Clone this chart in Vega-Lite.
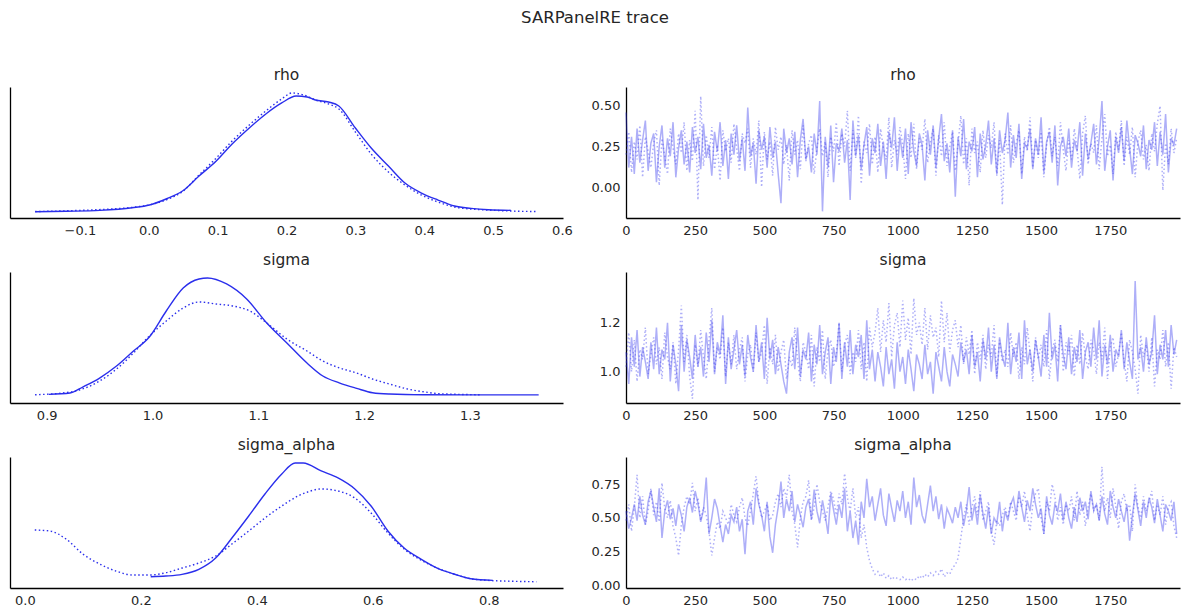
{
"$schema": "https://vega.github.io/schema/vega-lite/v6.json",
"padding": {"left": 10, "top": 9, "right": 8, "bottom": 6},
"background": "white",
"title": {"text": "SARPanelRE trace", "font": "DejaVu Sans", "fontSize": 16.5, "fontWeight": "normal", "color": "#262626", "anchor": "middle", "offset": 41.5},
"config": {
  "view": {"stroke": null},
  "axis": {"grid": false, "ticks": false, "domainColor": "black", "domainWidth": 1.3, "labelFont": "DejaVu Sans", "labelFontSize": 13, "labelColor": "#262626", "title": null, "labelFlush": false, "labelOverlap": false, "labelPadding": 6},
  "title": {"font": "DejaVu Sans", "fontSize": 15.5, "fontWeight": "normal", "color": "#262626", "offset": 4}
},
"datasets": {
"kde_rho": [
{"c":0,"x":-0.165,"d":0.3},{"c":0,"x":-0.12,"d":0.8},{"c":0,"x":-0.071,"d":1.7},{"c":0,"x":-0.024,"d":4.3},{"c":0,"x":0.001,"d":7},{"c":0,"x":0.026,"d":13.3},{"c":0,"x":0.049,"d":21},{"c":0,"x":0.073,"d":36},{"c":0,"x":0.098,"d":51},{"c":0,"x":0.121,"d":68},{"c":0,"x":0.146,"d":84},{"c":0,"x":0.17,"d":98},{"c":0,"x":0.193,"d":109},{"c":0,"x":0.214,"d":116},{"c":0,"x":0.23,"d":115},{"c":0,"x":0.242,"d":112},{"c":0,"x":0.261,"d":110},{"c":0,"x":0.276,"d":106},{"c":0,"x":0.3,"d":84},{"c":0,"x":0.323,"d":64},{"c":0,"x":0.348,"d":46},{"c":0,"x":0.372,"d":29},{"c":0,"x":0.396,"d":19},{"c":0,"x":0.42,"d":12},{"c":0,"x":0.444,"d":6},{"c":0,"x":0.468,"d":3.7},{"c":0,"x":0.493,"d":2.3},{"c":0,"x":0.526,"d":1.7},
{"c":1,"x":-0.165,"d":0.5},{"c":1,"x":-0.12,"d":1.2},{"c":1,"x":-0.07,"d":2.5},{"c":1,"x":-0.02,"d":5},{"c":1,"x":0.0,"d":7},{"c":1,"x":0.025,"d":12},{"c":1,"x":0.05,"d":21},{"c":1,"x":0.073,"d":37},{"c":1,"x":0.098,"d":54},{"c":1,"x":0.121,"d":71},{"c":1,"x":0.146,"d":87},{"c":1,"x":0.17,"d":101},{"c":1,"x":0.193,"d":113},{"c":1,"x":0.208,"d":119},{"c":1,"x":0.225,"d":117},{"c":1,"x":0.242,"d":112},{"c":1,"x":0.261,"d":108},{"c":1,"x":0.276,"d":103},{"c":1,"x":0.3,"d":80},{"c":1,"x":0.323,"d":58},{"c":1,"x":0.348,"d":40},{"c":1,"x":0.372,"d":27},{"c":1,"x":0.396,"d":17},{"c":1,"x":0.42,"d":10},{"c":1,"x":0.444,"d":5},{"c":1,"x":0.468,"d":3},{"c":1,"x":0.493,"d":2},{"c":1,"x":0.526,"d":1},{"c":1,"x":0.562,"d":0.5}
],
"kde_sigma": [
{"c":0,"x":0.902,"d":2.7},{"c":0,"x":0.922,"d":4},{"c":0,"x":0.934,"d":10},{"c":0,"x":0.95,"d":19},{"c":0,"x":0.966,"d":31},{"c":0,"x":0.982,"d":46},{"c":0,"x":0.997,"d":60},{"c":0,"x":1.013,"d":86},{"c":0,"x":1.029,"d":109},{"c":0,"x":1.044,"d":118},{"c":0,"x":1.052,"d":119},{"c":0,"x":1.07,"d":113},{"c":0,"x":1.089,"d":98},{"c":0,"x":1.108,"d":74},{"c":0,"x":1.127,"d":54},{"c":0,"x":1.146,"d":34},{"c":0,"x":1.161,"d":21},{"c":0,"x":1.177,"d":14},{"c":0,"x":1.193,"d":8.7},{"c":0,"x":1.208,"d":4.3},{"c":0,"x":1.224,"d":3},{"c":0,"x":1.256,"d":2.3},{"c":0,"x":1.3,"d":2.2},{"c":0,"x":1.365,"d":2.2},
{"c":1,"x":0.889,"d":2.3},{"c":1,"x":0.922,"d":5},{"c":1,"x":0.95,"d":16},{"c":1,"x":0.966,"d":28},{"c":1,"x":0.982,"d":44},{"c":1,"x":0.997,"d":61},{"c":1,"x":1.013,"d":76},{"c":1,"x":1.029,"d":89},{"c":1,"x":1.044,"d":95},{"c":1,"x":1.06,"d":93},{"c":1,"x":1.076,"d":91},{"c":1,"x":1.092,"d":86},{"c":1,"x":1.108,"d":74},{"c":1,"x":1.127,"d":58},{"c":1,"x":1.146,"d":46},{"c":1,"x":1.161,"d":36},{"c":1,"x":1.177,"d":29},{"c":1,"x":1.193,"d":24},{"c":1,"x":1.208,"d":18},{"c":1,"x":1.224,"d":13},{"c":1,"x":1.24,"d":8.3},{"c":1,"x":1.256,"d":5.3},{"c":1,"x":1.272,"d":3.3},{"c":1,"x":1.31,"d":2.3}
],
"kde_sa": [
{"c":0,"x":0.217,"d":5.3},{"c":0,"x":0.243,"d":6},{"c":0,"x":0.271,"d":7.7},{"c":0,"x":0.3,"d":12.7},{"c":0,"x":0.329,"d":24},{"c":0,"x":0.357,"d":44},{"c":0,"x":0.386,"d":66},{"c":0,"x":0.414,"d":88},{"c":0,"x":0.443,"d":108},{"c":0,"x":0.466,"d":119},{"c":0,"x":0.48,"d":119},{"c":0,"x":0.511,"d":111},{"c":0,"x":0.54,"d":104},{"c":0,"x":0.569,"d":93},{"c":0,"x":0.597,"d":76},{"c":0,"x":0.626,"d":51},{"c":0,"x":0.654,"d":34},{"c":0,"x":0.683,"d":23},{"c":0,"x":0.711,"d":14},{"c":0,"x":0.74,"d":8},{"c":0,"x":0.769,"d":3.3},{"c":0,"x":0.807,"d":1.7},
{"c":1,"x":0.017,"d":52},{"c":1,"x":0.043,"d":51},{"c":1,"x":0.071,"d":43},{"c":1,"x":0.1,"d":28},{"c":1,"x":0.129,"d":18},{"c":1,"x":0.157,"d":11},{"c":1,"x":0.186,"d":7},{"c":1,"x":0.214,"d":7},{"c":1,"x":0.243,"d":9.3},{"c":1,"x":0.271,"d":14},{"c":1,"x":0.3,"d":19},{"c":1,"x":0.329,"d":26},{"c":1,"x":0.357,"d":38},{"c":1,"x":0.386,"d":51},{"c":1,"x":0.414,"d":64},{"c":1,"x":0.443,"d":76},{"c":1,"x":0.471,"d":86},{"c":1,"x":0.483,"d":89},{"c":1,"x":0.511,"d":93},{"c":1,"x":0.54,"d":91},{"c":1,"x":0.569,"d":84},{"c":1,"x":0.597,"d":69},{"c":1,"x":0.626,"d":49},{"c":1,"x":0.654,"d":33},{"c":1,"x":0.683,"d":22},{"c":1,"x":0.711,"d":14},{"c":1,"x":0.74,"d":8},{"c":1,"x":0.769,"d":3.3},{"c":1,"x":0.797,"d":1.7},{"c":1,"x":0.84,"d":0.8},{"c":1,"x":0.882,"d":0.3}
],
"tr_rho": [
{"c":0,"i":0,"y":0.46},{"c":0,"i":10,"y":0.12},{"c":0,"i":20,"y":0.31},{"c":0,"i":30,"y":0.08},{"c":0,"i":40,"y":0.36},{"c":0,"i":50,"y":0.15},{"c":0,"i":60,"y":0.29},{"c":0,"i":70,"y":0.41},{"c":0,"i":80,"y":0.10},{"c":0,"i":90,"y":0.27},
{"c":0,"i":100,"y":0.33},{"c":0,"i":110,"y":0.03},{"c":0,"i":120,"y":0.25},{"c":0,"i":130,"y":0.38},{"c":0,"i":140,"y":0.12},{"c":0,"i":150,"y":0.30},{"c":0,"i":160,"y":0.19},{"c":0,"i":170,"y":0.40},{"c":0,"i":180,"y":0.06},{"c":0,"i":190,"y":0.24},
{"c":0,"i":200,"y":0.35},{"c":0,"i":210,"y":0.14},{"c":0,"i":220,"y":0.28},{"c":0,"i":230,"y":0.09},{"c":0,"i":240,"y":0.37},{"c":0,"i":250,"y":0.21},{"c":0,"i":260,"y":0.31},{"c":0,"i":270,"y":0.11},{"c":0,"i":280,"y":0.39},{"c":0,"i":290,"y":0.18},
{"c":0,"i":300,"y":0.26},{"c":0,"i":310,"y":0.07},{"c":0,"i":320,"y":0.34},{"c":0,"i":330,"y":0.22},{"c":0,"i":340,"y":0.40},{"c":0,"i":350,"y":0.13},{"c":0,"i":360,"y":0.29},{"c":0,"i":370,"y":0.05},{"c":0,"i":380,"y":0.33},{"c":0,"i":390,"y":0.20},
{"c":0,"i":400,"y":0.38},{"c":0,"i":410,"y":0.16},{"c":0,"i":420,"y":0.30},{"c":0,"i":430,"y":0.10},{"c":0,"i":440,"y":0.49},{"c":0,"i":450,"y":0.19},{"c":0,"i":460,"y":0.27},{"c":0,"i":470,"y":0.02},{"c":0,"i":480,"y":0.35},{"c":0,"i":490,"y":0.23},
{"c":0,"i":500,"y":0.31},{"c":0,"i":510,"y":0.12},{"c":0,"i":520,"y":0.37},{"c":0,"i":530,"y":0.18},{"c":0,"i":540,"y":0.28},{"c":0,"i":550,"y":0.08},{"c":0,"i":560,"y":-0.10},{"c":0,"i":570,"y":0.36},{"c":0,"i":580,"y":0.21},{"c":0,"i":590,"y":0.30},
{"c":0,"i":600,"y":0.14},{"c":0,"i":610,"y":0.34},{"c":0,"i":620,"y":0.06},{"c":0,"i":630,"y":0.29},{"c":0,"i":640,"y":0.42},{"c":0,"i":650,"y":0.17},{"c":0,"i":660,"y":0.25},{"c":0,"i":670,"y":0.09},{"c":0,"i":680,"y":0.33},{"c":0,"i":690,"y":0.20},
{"c":0,"i":700,"y":0.53},{"c":0,"i":710,"y":-0.15},{"c":0,"i":720,"y":0.31},{"c":0,"i":730,"y":0.12},{"c":0,"i":740,"y":0.38},{"c":0,"i":750,"y":0.03},{"c":0,"i":760,"y":0.27},{"c":0,"i":770,"y":0.22},{"c":0,"i":780,"y":0.36},{"c":0,"i":790,"y":0.15},
{"c":0,"i":800,"y":0.29},{"c":0,"i":810,"y":-0.08},{"c":0,"i":820,"y":0.41},{"c":0,"i":830,"y":0.19},{"c":0,"i":840,"y":0.32},{"c":0,"i":850,"y":0.11},{"c":0,"i":860,"y":0.26},{"c":0,"i":870,"y":0.37},{"c":0,"i":880,"y":0.07},{"c":0,"i":890,"y":0.30},
{"c":0,"i":900,"y":0.21},{"c":0,"i":910,"y":0.39},{"c":0,"i":920,"y":0.13},{"c":0,"i":930,"y":0.28},{"c":0,"i":940,"y":0.05},{"c":0,"i":950,"y":0.34},{"c":0,"i":960,"y":0.24},{"c":0,"i":970,"y":0.43},{"c":0,"i":980,"y":0.10},{"c":0,"i":990,"y":0.31},
{"c":0,"i":1000,"y":0.18},{"c":0,"i":1010,"y":0.36},{"c":0,"i":1020,"y":0.08},{"c":0,"i":1030,"y":0.40},{"c":0,"i":1040,"y":0.22},{"c":0,"i":1050,"y":0.13},{"c":0,"i":1060,"y":0.33},{"c":0,"i":1070,"y":0.26},{"c":0,"i":1080,"y":0.04},{"c":0,"i":1090,"y":0.35},
{"c":0,"i":1100,"y":0.20},{"c":0,"i":1110,"y":0.38},{"c":0,"i":1120,"y":0.12},{"c":0,"i":1130,"y":0.30},{"c":0,"i":1140,"y":0.45},{"c":0,"i":1150,"y":0.16},{"c":0,"i":1160,"y":0.27},{"c":0,"i":1170,"y":0.09},{"c":0,"i":1180,"y":0.35},{"c":0,"i":1190,"y":-0.06},
{"c":0,"i":1200,"y":0.31},{"c":0,"i":1210,"y":0.19},{"c":0,"i":1220,"y":0.42},{"c":0,"i":1230,"y":0.11},{"c":0,"i":1240,"y":0.28},{"c":0,"i":1250,"y":0.22},{"c":0,"i":1260,"y":0.37},{"c":0,"i":1270,"y":0.06},{"c":0,"i":1280,"y":0.33},{"c":0,"i":1290,"y":0.17},
{"c":0,"i":1300,"y":0.26},{"c":0,"i":1310,"y":0.41},{"c":0,"i":1320,"y":0.14},{"c":0,"i":1330,"y":0.30},{"c":0,"i":1340,"y":0.08},{"c":0,"i":1350,"y":0.35},{"c":0,"i":1360,"y":0.21},{"c":0,"i":1370,"y":0.29},{"c":0,"i":1380,"y":0.46},{"c":0,"i":1390,"y":0.12},
{"c":0,"i":1400,"y":0.32},{"c":0,"i":1410,"y":0.18},{"c":0,"i":1420,"y":0.39},{"c":0,"i":1430,"y":0.05},{"c":0,"i":1440,"y":0.27},{"c":0,"i":1450,"y":0.24},{"c":0,"i":1460,"y":0.36},{"c":0,"i":1470,"y":0.11},{"c":0,"i":1480,"y":0.30},{"c":0,"i":1490,"y":0.20},
{"c":0,"i":1500,"y":0.43},{"c":0,"i":1510,"y":0.09},{"c":0,"i":1520,"y":0.28},{"c":0,"i":1530,"y":0.34},{"c":0,"i":1540,"y":0.15},{"c":0,"i":1550,"y":0.38},{"c":0,"i":1560,"y":0.01},{"c":0,"i":1570,"y":0.25},{"c":0,"i":1580,"y":0.31},{"c":0,"i":1590,"y":0.19},
{"c":0,"i":1600,"y":0.36},{"c":0,"i":1610,"y":0.12},{"c":0,"i":1620,"y":0.29},{"c":0,"i":1630,"y":0.22},{"c":0,"i":1640,"y":0.40},{"c":0,"i":1650,"y":0.07},{"c":0,"i":1660,"y":0.33},{"c":0,"i":1670,"y":0.17},{"c":0,"i":1680,"y":0.27},{"c":0,"i":1690,"y":0.39},
{"c":0,"i":1700,"y":0.14},{"c":0,"i":1710,"y":0.30},{"c":0,"i":1720,"y":0.53},{"c":0,"i":1730,"y":0.10},{"c":0,"i":1740,"y":0.25},{"c":0,"i":1750,"y":0.35},{"c":0,"i":1760,"y":0.04},{"c":0,"i":1770,"y":0.31},{"c":0,"i":1780,"y":0.21},{"c":0,"i":1790,"y":0.37},
{"c":0,"i":1800,"y":0.16},{"c":0,"i":1810,"y":0.41},{"c":0,"i":1820,"y":0.24},{"c":0,"i":1830,"y":0.08},{"c":0,"i":1840,"y":0.32},{"c":0,"i":1850,"y":0.27},{"c":0,"i":1860,"y":0.19},{"c":0,"i":1870,"y":0.38},{"c":0,"i":1880,"y":0.11},{"c":0,"i":1890,"y":0.29},
{"c":0,"i":1900,"y":0.23},{"c":0,"i":1910,"y":0.40},{"c":0,"i":1920,"y":0.13},{"c":0,"i":1930,"y":0.34},{"c":0,"i":1940,"y":0.20},{"c":0,"i":1950,"y":0.45},{"c":0,"i":1960,"y":0.09},{"c":0,"i":1970,"y":0.30},{"c":0,"i":1980,"y":0.26},{"c":0,"i":1990,"y":0.36},
{"c":1,"i":0,"y":0.20},{"c":1,"i":10,"y":0.34},{"c":1,"i":20,"y":0.09},{"c":1,"i":30,"y":0.28},{"c":1,"i":40,"y":0.17},{"c":1,"i":50,"y":0.38},{"c":1,"i":60,"y":0.06},{"c":1,"i":70,"y":0.31},{"c":1,"i":80,"y":0.22},{"c":1,"i":90,"y":0.12},
{"c":1,"i":100,"y":0.27},{"c":1,"i":110,"y":0.35},{"c":1,"i":120,"y":0.01},{"c":1,"i":130,"y":0.30},{"c":1,"i":140,"y":0.19},{"c":1,"i":150,"y":0.08},{"c":1,"i":160,"y":0.36},{"c":1,"i":170,"y":0.24},{"c":1,"i":180,"y":0.14},{"c":1,"i":190,"y":0.33},
{"c":1,"i":200,"y":0.21},{"c":1,"i":210,"y":0.40},{"c":1,"i":220,"y":0.10},{"c":1,"i":230,"y":0.29},{"c":1,"i":240,"y":0.16},{"c":1,"i":250,"y":0.47},{"c":1,"i":260,"y":-0.08},{"c":1,"i":270,"y":0.56},{"c":1,"i":280,"y":0.13},{"c":1,"i":290,"y":0.32},
{"c":1,"i":300,"y":0.18},{"c":1,"i":310,"y":0.37},{"c":1,"i":320,"y":0.11},{"c":1,"i":330,"y":0.26},{"c":1,"i":340,"y":0.04},{"c":1,"i":350,"y":0.35},{"c":1,"i":360,"y":0.22},{"c":1,"i":370,"y":0.30},{"c":1,"i":380,"y":0.15},{"c":1,"i":390,"y":0.39},
{"c":1,"i":400,"y":0.24},{"c":1,"i":410,"y":0.10},{"c":1,"i":420,"y":0.33},{"c":1,"i":430,"y":0.27},{"c":1,"i":440,"y":0.36},{"c":1,"i":450,"y":0.12},{"c":1,"i":460,"y":0.30},{"c":1,"i":470,"y":0.20},{"c":1,"i":480,"y":0.41},{"c":1,"i":490,"y":0.00},
{"c":1,"i":500,"y":0.34},{"c":1,"i":510,"y":0.17},{"c":1,"i":520,"y":0.28},{"c":1,"i":530,"y":0.07},{"c":1,"i":540,"y":0.37},{"c":1,"i":550,"y":0.23},{"c":1,"i":560,"y":0.31},{"c":1,"i":570,"y":0.14},{"c":1,"i":580,"y":0.26},{"c":1,"i":590,"y":0.04},
{"c":1,"i":600,"y":0.35},{"c":1,"i":610,"y":0.20},{"c":1,"i":620,"y":0.29},{"c":1,"i":630,"y":0.11},{"c":1,"i":640,"y":0.38},{"c":1,"i":650,"y":0.16},{"c":1,"i":660,"y":0.27},{"c":1,"i":670,"y":0.32},{"c":1,"i":680,"y":0.08},{"c":1,"i":690,"y":0.24},
{"c":1,"i":700,"y":0.36},{"c":1,"i":710,"y":0.19},{"c":1,"i":720,"y":0.28},{"c":1,"i":730,"y":0.06},{"c":1,"i":740,"y":0.31},{"c":1,"i":750,"y":0.22},{"c":1,"i":760,"y":0.40},{"c":1,"i":770,"y":0.13},{"c":1,"i":780,"y":0.33},{"c":1,"i":790,"y":0.25},
{"c":1,"i":800,"y":0.47},{"c":1,"i":810,"y":0.10},{"c":1,"i":820,"y":0.35},{"c":1,"i":830,"y":0.18},{"c":1,"i":840,"y":0.44},{"c":1,"i":850,"y":0.02},{"c":1,"i":860,"y":0.28},{"c":1,"i":870,"y":0.21},{"c":1,"i":880,"y":0.39},{"c":1,"i":890,"y":0.14},
{"c":1,"i":900,"y":0.31},{"c":1,"i":910,"y":0.09},{"c":1,"i":920,"y":0.36},{"c":1,"i":930,"y":0.24},{"c":1,"i":940,"y":0.17},{"c":1,"i":950,"y":0.43},{"c":1,"i":960,"y":0.12},{"c":1,"i":970,"y":0.29},{"c":1,"i":980,"y":0.20},{"c":1,"i":990,"y":0.37},
{"c":1,"i":1000,"y":0.26},{"c":1,"i":1010,"y":0.05},{"c":1,"i":1020,"y":0.33},{"c":1,"i":1030,"y":0.18},{"c":1,"i":1040,"y":0.39},{"c":1,"i":1050,"y":0.11},{"c":1,"i":1060,"y":0.30},{"c":1,"i":1070,"y":0.23},{"c":1,"i":1080,"y":0.42},{"c":1,"i":1090,"y":0.15},
{"c":1,"i":1100,"y":0.28},{"c":1,"i":1110,"y":0.36},{"c":1,"i":1120,"y":0.07},{"c":1,"i":1130,"y":0.32},{"c":1,"i":1140,"y":0.19},{"c":1,"i":1150,"y":0.40},{"c":1,"i":1160,"y":0.13},{"c":1,"i":1170,"y":0.25},{"c":1,"i":1180,"y":0.34},{"c":1,"i":1190,"y":0.10},
{"c":1,"i":1200,"y":0.27},{"c":1,"i":1210,"y":0.44},{"c":1,"i":1220,"y":0.14},{"c":1,"i":1230,"y":0.30},{"c":1,"i":1240,"y":0.01},{"c":1,"i":1250,"y":0.36},{"c":1,"i":1260,"y":0.21},{"c":1,"i":1270,"y":0.28},{"c":1,"i":1280,"y":0.09},{"c":1,"i":1290,"y":0.35},
{"c":1,"i":1300,"y":0.18},{"c":1,"i":1310,"y":0.32},{"c":1,"i":1320,"y":0.24},{"c":1,"i":1330,"y":0.40},{"c":1,"i":1340,"y":0.07},{"c":1,"i":1350,"y":0.29},{"c":1,"i":1360,"y":-0.11},{"c":1,"i":1370,"y":0.33},{"c":1,"i":1380,"y":0.20},{"c":1,"i":1390,"y":0.38},
{"c":1,"i":1400,"y":0.15},{"c":1,"i":1410,"y":0.27},{"c":1,"i":1420,"y":0.35},{"c":1,"i":1430,"y":0.08},{"c":1,"i":1440,"y":0.31},{"c":1,"i":1450,"y":0.22},{"c":1,"i":1460,"y":0.43},{"c":1,"i":1470,"y":0.12},{"c":1,"i":1480,"y":0.29},{"c":1,"i":1490,"y":0.18},
{"c":1,"i":1500,"y":0.34},{"c":1,"i":1510,"y":0.06},{"c":1,"i":1520,"y":0.26},{"c":1,"i":1530,"y":0.37},{"c":1,"i":1540,"y":0.19},{"c":1,"i":1550,"y":0.31},{"c":1,"i":1560,"y":0.13},{"c":1,"i":1570,"y":0.40},{"c":1,"i":1580,"y":0.23},{"c":1,"i":1590,"y":0.10},
{"c":1,"i":1600,"y":0.29},{"c":1,"i":1610,"y":0.17},{"c":1,"i":1620,"y":0.36},{"c":1,"i":1630,"y":0.24},{"c":1,"i":1640,"y":0.05},{"c":1,"i":1650,"y":0.33},{"c":1,"i":1660,"y":0.44},{"c":1,"i":1670,"y":0.14},{"c":1,"i":1680,"y":0.27},{"c":1,"i":1690,"y":0.21},
{"c":1,"i":1700,"y":0.38},{"c":1,"i":1710,"y":0.11},{"c":1,"i":1720,"y":0.30},{"c":1,"i":1730,"y":0.45},{"c":1,"i":1740,"y":0.19},{"c":1,"i":1750,"y":0.26},{"c":1,"i":1760,"y":0.08},{"c":1,"i":1770,"y":0.34},{"c":1,"i":1780,"y":0.23},{"c":1,"i":1790,"y":0.41},
{"c":1,"i":1800,"y":0.13},{"c":1,"i":1810,"y":0.31},{"c":1,"i":1820,"y":0.20},{"c":1,"i":1830,"y":0.37},{"c":1,"i":1840,"y":0.06},{"c":1,"i":1850,"y":0.28},{"c":1,"i":1860,"y":0.35},{"c":1,"i":1870,"y":0.17},{"c":1,"i":1880,"y":0.26},{"c":1,"i":1890,"y":0.10},
{"c":1,"i":1900,"y":0.33},{"c":1,"i":1910,"y":0.22},{"c":1,"i":1920,"y":0.39},{"c":1,"i":1930,"y":0.50},{"c":1,"i":1940,"y":-0.02},{"c":1,"i":1950,"y":0.27},{"c":1,"i":1960,"y":0.14},{"c":1,"i":1970,"y":0.36},{"c":1,"i":1980,"y":0.21},{"c":1,"i":1990,"y":0.30}
],
"tr_sigma": [
{"c":0,"i":0,"y":1.08},{"c":0,"i":10,"y":0.95},{"c":0,"i":20,"y":1.14},{"c":0,"i":30,"y":1.02},{"c":0,"i":40,"y":1.17},{"c":0,"i":50,"y":0.98},{"c":0,"i":60,"y":1.10},{"c":0,"i":70,"y":1.04},{"c":0,"i":80,"y":0.97},{"c":0,"i":90,"y":1.12},
{"c":0,"i":100,"y":1.01},{"c":0,"i":110,"y":1.18},{"c":0,"i":120,"y":0.99},{"c":0,"i":130,"y":1.09},{"c":0,"i":140,"y":1.05},{"c":0,"i":150,"y":1.20},{"c":0,"i":160,"y":0.96},{"c":0,"i":170,"y":1.11},{"c":0,"i":180,"y":1.03},{"c":0,"i":190,"y":0.92},
{"c":0,"i":200,"y":1.19},{"c":0,"i":210,"y":1.00},{"c":0,"i":220,"y":1.13},{"c":0,"i":230,"y":1.06},{"c":0,"i":240,"y":0.97},{"c":0,"i":250,"y":1.15},{"c":0,"i":260,"y":1.02},{"c":0,"i":270,"y":1.10},{"c":0,"i":280,"y":0.98},{"c":0,"i":290,"y":1.16},
{"c":0,"i":300,"y":1.04},{"c":0,"i":310,"y":1.21},{"c":0,"i":320,"y":0.99},{"c":0,"i":330,"y":1.12},{"c":0,"i":340,"y":1.07},{"c":0,"i":350,"y":1.23},{"c":0,"i":360,"y":0.95},{"c":0,"i":370,"y":1.14},{"c":0,"i":380,"y":1.01},{"c":0,"i":390,"y":1.09},
{"c":0,"i":400,"y":1.17},{"c":0,"i":410,"y":1.03},{"c":0,"i":420,"y":1.11},{"c":0,"i":430,"y":0.98},{"c":0,"i":440,"y":1.15},{"c":0,"i":450,"y":1.06},{"c":0,"i":460,"y":1.00},{"c":0,"i":470,"y":1.19},{"c":0,"i":480,"y":1.04},{"c":0,"i":490,"y":1.12},
{"c":0,"i":500,"y":0.97},{"c":0,"i":510,"y":1.22},{"c":0,"i":520,"y":1.05},{"c":0,"i":530,"y":1.13},{"c":0,"i":540,"y":0.99},{"c":0,"i":550,"y":1.10},{"c":0,"i":560,"y":1.03},{"c":0,"i":570,"y":0.96},{"c":0,"i":580,"y":0.91},{"c":0,"i":590,"y":1.08},
{"c":0,"i":600,"y":1.14},{"c":0,"i":610,"y":1.01},{"c":0,"i":620,"y":1.18},{"c":0,"i":630,"y":0.98},{"c":0,"i":640,"y":1.09},{"c":0,"i":650,"y":1.05},{"c":0,"i":660,"y":1.16},{"c":0,"i":670,"y":0.96},{"c":0,"i":680,"y":1.11},{"c":0,"i":690,"y":1.03},
{"c":0,"i":700,"y":1.19},{"c":0,"i":710,"y":0.99},{"c":0,"i":720,"y":1.08},{"c":0,"i":730,"y":1.14},{"c":0,"i":740,"y":0.95},{"c":0,"i":750,"y":1.10},{"c":0,"i":760,"y":1.04},{"c":0,"i":770,"y":1.20},{"c":0,"i":780,"y":0.97},{"c":0,"i":790,"y":1.12},
{"c":0,"i":800,"y":1.02},{"c":0,"i":810,"y":1.17},{"c":0,"i":820,"y":0.99},{"c":0,"i":830,"y":1.11},{"c":0,"i":840,"y":1.06},{"c":0,"i":850,"y":1.15},{"c":0,"i":860,"y":0.97},{"c":0,"i":870,"y":1.21},{"c":0,"i":880,"y":1.01},{"c":0,"i":890,"y":1.09},
{"c":0,"i":900,"y":0.96},{"c":0,"i":910,"y":1.08},{"c":0,"i":920,"y":1.02},{"c":0,"i":930,"y":0.94},{"c":0,"i":940,"y":1.10},{"c":0,"i":950,"y":0.99},{"c":0,"i":960,"y":1.05},{"c":0,"i":970,"y":0.93},{"c":0,"i":980,"y":1.12},{"c":0,"i":990,"y":1.00},
{"c":0,"i":1000,"y":1.06},{"c":0,"i":1010,"y":0.95},{"c":0,"i":1020,"y":1.09},{"c":0,"i":1030,"y":1.01},{"c":0,"i":1040,"y":0.92},{"c":0,"i":1050,"y":1.07},{"c":0,"i":1060,"y":1.03},{"c":0,"i":1070,"y":0.97},{"c":0,"i":1080,"y":1.11},{"c":0,"i":1090,"y":0.99},
{"c":0,"i":1100,"y":1.04},{"c":0,"i":1110,"y":0.91},{"c":0,"i":1120,"y":1.08},{"c":0,"i":1130,"y":1.02},{"c":0,"i":1140,"y":0.96},{"c":0,"i":1150,"y":1.10},{"c":0,"i":1160,"y":1.00},{"c":0,"i":1170,"y":0.94},{"c":0,"i":1180,"y":1.07},{"c":0,"i":1190,"y":1.03},
{"c":0,"i":1200,"y":0.98},{"c":0,"i":1210,"y":1.12},{"c":0,"i":1220,"y":1.04},{"c":0,"i":1230,"y":1.09},{"c":0,"i":1240,"y":0.99},{"c":0,"i":1250,"y":1.15},{"c":0,"i":1260,"y":1.02},{"c":0,"i":1270,"y":1.08},{"c":0,"i":1280,"y":0.96},{"c":0,"i":1290,"y":1.13},
{"c":0,"i":1300,"y":1.05},{"c":0,"i":1310,"y":1.18},{"c":0,"i":1320,"y":1.00},{"c":0,"i":1330,"y":1.11},{"c":0,"i":1340,"y":0.97},{"c":0,"i":1350,"y":1.14},{"c":0,"i":1360,"y":1.06},{"c":0,"i":1370,"y":1.02},{"c":0,"i":1380,"y":1.20},{"c":0,"i":1390,"y":0.99},
{"c":0,"i":1400,"y":1.10},{"c":0,"i":1410,"y":1.04},{"c":0,"i":1420,"y":1.16},{"c":0,"i":1430,"y":0.97},{"c":0,"i":1440,"y":1.21},{"c":0,"i":1450,"y":1.03},{"c":0,"i":1460,"y":1.09},{"c":0,"i":1470,"y":1.00},{"c":0,"i":1480,"y":1.13},{"c":0,"i":1490,"y":1.06},
{"c":0,"i":1500,"y":0.98},{"c":0,"i":1510,"y":1.15},{"c":0,"i":1520,"y":1.02},{"c":0,"i":1530,"y":1.24},{"c":0,"i":1540,"y":1.05},{"c":0,"i":1550,"y":1.11},{"c":0,"i":1560,"y":0.96},{"c":0,"i":1570,"y":1.19},{"c":0,"i":1580,"y":1.07},{"c":0,"i":1590,"y":1.01},
{"c":0,"i":1600,"y":1.14},{"c":0,"i":1610,"y":0.99},{"c":0,"i":1620,"y":1.10},{"c":0,"i":1630,"y":1.04},{"c":0,"i":1640,"y":1.17},{"c":0,"i":1650,"y":0.97},{"c":0,"i":1660,"y":1.08},{"c":0,"i":1670,"y":1.12},{"c":0,"i":1680,"y":1.02},{"c":0,"i":1690,"y":1.18},
{"c":0,"i":1700,"y":1.05},{"c":0,"i":1710,"y":1.21},{"c":0,"i":1720,"y":0.98},{"c":0,"i":1730,"y":1.11},{"c":0,"i":1740,"y":1.03},{"c":0,"i":1750,"y":1.15},{"c":0,"i":1760,"y":1.00},{"c":0,"i":1770,"y":1.09},{"c":0,"i":1780,"y":1.06},{"c":0,"i":1790,"y":1.17},
{"c":0,"i":1800,"y":1.01},{"c":0,"i":1810,"y":1.12},{"c":0,"i":1820,"y":1.04},{"c":0,"i":1830,"y":0.97},{"c":0,"i":1840,"y":1.37},{"c":0,"i":1850,"y":1.05},{"c":0,"i":1860,"y":1.10},{"c":0,"i":1870,"y":1.00},{"c":0,"i":1880,"y":1.14},{"c":0,"i":1890,"y":1.03},
{"c":0,"i":1900,"y":1.08},{"c":0,"i":1910,"y":1.23},{"c":0,"i":1920,"y":0.99},{"c":0,"i":1930,"y":1.11},{"c":0,"i":1940,"y":1.05},{"c":0,"i":1950,"y":1.17},{"c":0,"i":1960,"y":1.02},{"c":0,"i":1970,"y":1.19},{"c":0,"i":1980,"y":1.07},{"c":0,"i":1990,"y":1.13},
{"c":1,"i":0,"y":1.02},{"c":1,"i":10,"y":1.16},{"c":1,"i":20,"y":1.00},{"c":1,"i":30,"y":1.13},{"c":1,"i":40,"y":0.96},{"c":1,"i":50,"y":1.09},{"c":1,"i":60,"y":1.05},{"c":1,"i":70,"y":1.18},{"c":1,"i":80,"y":0.99},{"c":1,"i":90,"y":1.07},
{"c":1,"i":100,"y":1.14},{"c":1,"i":110,"y":1.03},{"c":1,"i":120,"y":1.10},{"c":1,"i":130,"y":0.97},{"c":1,"i":140,"y":1.16},{"c":1,"i":150,"y":1.06},{"c":1,"i":160,"y":1.01},{"c":1,"i":170,"y":1.12},{"c":1,"i":180,"y":0.95},{"c":1,"i":190,"y":1.09},
{"c":1,"i":200,"y":1.27},{"c":1,"i":210,"y":1.04},{"c":1,"i":220,"y":1.15},{"c":1,"i":230,"y":0.98},{"c":1,"i":240,"y":0.89},{"c":1,"i":250,"y":1.11},{"c":1,"i":260,"y":1.02},{"c":1,"i":270,"y":1.17},{"c":1,"i":280,"y":1.06},{"c":1,"i":290,"y":0.97},
{"c":1,"i":300,"y":1.13},{"c":1,"i":310,"y":1.26},{"c":1,"i":320,"y":1.00},{"c":1,"i":330,"y":1.10},{"c":1,"i":340,"y":1.05},{"c":1,"i":350,"y":1.18},{"c":1,"i":360,"y":0.98},{"c":1,"i":370,"y":1.12},{"c":1,"i":380,"y":1.03},{"c":1,"i":390,"y":1.15},
{"c":1,"i":400,"y":1.01},{"c":1,"i":410,"y":1.09},{"c":1,"i":420,"y":1.14},{"c":1,"i":430,"y":0.96},{"c":1,"i":440,"y":1.07},{"c":1,"i":450,"y":1.11},{"c":1,"i":460,"y":1.00},{"c":1,"i":470,"y":1.16},{"c":1,"i":480,"y":1.04},{"c":1,"i":490,"y":1.08},
{"c":1,"i":500,"y":1.19},{"c":1,"i":510,"y":0.95},{"c":1,"i":520,"y":1.10},{"c":1,"i":530,"y":1.03},{"c":1,"i":540,"y":1.15},{"c":1,"i":550,"y":1.00},{"c":1,"i":560,"y":1.08},{"c":1,"i":570,"y":1.13},{"c":1,"i":580,"y":0.97},{"c":1,"i":590,"y":1.06},
{"c":1,"i":600,"y":1.02},{"c":1,"i":610,"y":1.18},{"c":1,"i":620,"y":1.05},{"c":1,"i":630,"y":0.96},{"c":1,"i":640,"y":1.12},{"c":1,"i":650,"y":1.08},{"c":1,"i":660,"y":1.01},{"c":1,"i":670,"y":1.15},{"c":1,"i":680,"y":0.94},{"c":1,"i":690,"y":1.10},
{"c":1,"i":700,"y":1.04},{"c":1,"i":710,"y":1.17},{"c":1,"i":720,"y":0.97},{"c":1,"i":730,"y":1.09},{"c":1,"i":740,"y":1.13},{"c":1,"i":750,"y":1.02},{"c":1,"i":760,"y":1.07},{"c":1,"i":770,"y":1.20},{"c":1,"i":780,"y":1.00},{"c":1,"i":790,"y":1.11},
{"c":1,"i":800,"y":1.15},{"c":1,"i":810,"y":0.99},{"c":1,"i":820,"y":1.08},{"c":1,"i":830,"y":1.04},{"c":1,"i":840,"y":1.17},{"c":1,"i":850,"y":1.01},{"c":1,"i":860,"y":1.12},{"c":1,"i":870,"y":0.96},{"c":1,"i":880,"y":1.18},{"c":1,"i":890,"y":1.10},
{"c":1,"i":900,"y":1.16},{"c":1,"i":910,"y":1.26},{"c":1,"i":920,"y":1.08},{"c":1,"i":930,"y":1.21},{"c":1,"i":940,"y":1.12},{"c":1,"i":950,"y":1.28},{"c":1,"i":960,"y":1.06},{"c":1,"i":970,"y":1.19},{"c":1,"i":980,"y":1.24},{"c":1,"i":990,"y":1.10},
{"c":1,"i":1000,"y":1.29},{"c":1,"i":1010,"y":1.13},{"c":1,"i":1020,"y":1.22},{"c":1,"i":1030,"y":1.07},{"c":1,"i":1040,"y":1.30},{"c":1,"i":1050,"y":1.15},{"c":1,"i":1060,"y":1.20},{"c":1,"i":1070,"y":1.11},{"c":1,"i":1080,"y":1.26},{"c":1,"i":1090,"y":1.09},
{"c":1,"i":1100,"y":1.23},{"c":1,"i":1110,"y":1.14},{"c":1,"i":1120,"y":1.18},{"c":1,"i":1130,"y":1.06},{"c":1,"i":1140,"y":1.29},{"c":1,"i":1150,"y":1.12},{"c":1,"i":1160,"y":1.24},{"c":1,"i":1170,"y":1.08},{"c":1,"i":1180,"y":1.17},{"c":1,"i":1190,"y":1.21},
{"c":1,"i":1200,"y":1.10},{"c":1,"i":1210,"y":1.19},{"c":1,"i":1220,"y":1.03},{"c":1,"i":1230,"y":1.14},{"c":1,"i":1240,"y":1.07},{"c":1,"i":1250,"y":1.17},{"c":1,"i":1260,"y":0.99},{"c":1,"i":1270,"y":1.12},{"c":1,"i":1280,"y":1.05},{"c":1,"i":1290,"y":1.15},
{"c":1,"i":1300,"y":1.01},{"c":1,"i":1310,"y":1.11},{"c":1,"i":1320,"y":1.06},{"c":1,"i":1330,"y":1.19},{"c":1,"i":1340,"y":0.98},{"c":1,"i":1350,"y":1.13},{"c":1,"i":1360,"y":1.04},{"c":1,"i":1370,"y":1.09},{"c":1,"i":1380,"y":1.02},{"c":1,"i":1390,"y":1.16},
{"c":1,"i":1400,"y":1.06},{"c":1,"i":1410,"y":1.12},{"c":1,"i":1420,"y":0.97},{"c":1,"i":1430,"y":1.10},{"c":1,"i":1440,"y":1.03},{"c":1,"i":1450,"y":1.18},{"c":1,"i":1460,"y":1.08},{"c":1,"i":1470,"y":0.96},{"c":1,"i":1480,"y":1.14},{"c":1,"i":1490,"y":1.05},
{"c":1,"i":1500,"y":1.11},{"c":1,"i":1510,"y":1.02},{"c":1,"i":1520,"y":1.17},{"c":1,"i":1530,"y":0.97},{"c":1,"i":1540,"y":1.09},{"c":1,"i":1550,"y":1.13},{"c":1,"i":1560,"y":1.04},{"c":1,"i":1570,"y":1.19},{"c":1,"i":1580,"y":1.00},{"c":1,"i":1590,"y":1.12},
{"c":1,"i":1600,"y":1.07},{"c":1,"i":1610,"y":1.15},{"c":1,"i":1620,"y":0.98},{"c":1,"i":1630,"y":1.11},{"c":1,"i":1640,"y":1.03},{"c":1,"i":1650,"y":1.16},{"c":1,"i":1660,"y":1.06},{"c":1,"i":1670,"y":1.01},{"c":1,"i":1680,"y":1.13},{"c":1,"i":1690,"y":1.09},
{"c":1,"i":1700,"y":0.99},{"c":1,"i":1710,"y":1.12},{"c":1,"i":1720,"y":1.05},{"c":1,"i":1730,"y":1.18},{"c":1,"i":1740,"y":0.97},{"c":1,"i":1750,"y":1.10},{"c":1,"i":1760,"y":1.14},{"c":1,"i":1770,"y":1.02},{"c":1,"i":1780,"y":1.07},{"c":1,"i":1790,"y":1.16},
{"c":1,"i":1800,"y":1.04},{"c":1,"i":1810,"y":0.96},{"c":1,"i":1820,"y":1.13},{"c":1,"i":1830,"y":1.08},{"c":1,"i":1840,"y":1.01},{"c":1,"i":1850,"y":0.91},{"c":1,"i":1860,"y":1.15},{"c":1,"i":1870,"y":1.06},{"c":1,"i":1880,"y":1.11},{"c":1,"i":1890,"y":1.00},
{"c":1,"i":1900,"y":1.14},{"c":1,"i":1910,"y":0.94},{"c":1,"i":1920,"y":1.09},{"c":1,"i":1930,"y":1.05},{"c":1,"i":1940,"y":1.17},{"c":1,"i":1950,"y":1.02},{"c":1,"i":1960,"y":1.12},{"c":1,"i":1970,"y":0.93},{"c":1,"i":1980,"y":1.10},{"c":1,"i":1990,"y":1.06}
],
"tr_sa": [
{"c":0,"i":0,"y":0.55},{"c":0,"i":10,"y":0.42},{"c":0,"i":20,"y":0.50},{"c":0,"i":30,"y":0.60},{"c":0,"i":40,"y":0.48},{"c":0,"i":50,"y":0.66},{"c":0,"i":60,"y":0.52},{"c":0,"i":70,"y":0.45},{"c":0,"i":80,"y":0.62},{"c":0,"i":90,"y":0.70},
{"c":0,"i":100,"y":0.58},{"c":0,"i":110,"y":0.47},{"c":0,"i":120,"y":0.72},{"c":0,"i":130,"y":0.35},{"c":0,"i":140,"y":0.55},{"c":0,"i":150,"y":0.63},{"c":0,"i":160,"y":0.49},{"c":0,"i":170,"y":0.57},{"c":0,"i":180,"y":0.44},{"c":0,"i":190,"y":0.60},
{"c":0,"i":200,"y":0.52},{"c":0,"i":210,"y":0.40},{"c":0,"i":220,"y":0.58},{"c":0,"i":230,"y":0.65},{"c":0,"i":240,"y":0.54},{"c":0,"i":250,"y":0.70},{"c":0,"i":260,"y":0.61},{"c":0,"i":270,"y":0.47},{"c":0,"i":280,"y":0.56},{"c":0,"i":290,"y":0.80},
{"c":0,"i":300,"y":0.38},{"c":0,"i":310,"y":0.50},{"c":0,"i":320,"y":0.64},{"c":0,"i":330,"y":0.57},{"c":0,"i":340,"y":0.44},{"c":0,"i":350,"y":0.32},{"c":0,"i":360,"y":0.45},{"c":0,"i":370,"y":0.38},{"c":0,"i":380,"y":0.52},{"c":0,"i":390,"y":0.47},
{"c":0,"i":400,"y":0.58},{"c":0,"i":410,"y":0.40},{"c":0,"i":420,"y":0.49},{"c":0,"i":430,"y":0.23},{"c":0,"i":440,"y":0.55},{"c":0,"i":450,"y":0.62},{"c":0,"i":460,"y":0.45},{"c":0,"i":470,"y":0.72},{"c":0,"i":480,"y":0.60},{"c":0,"i":490,"y":0.52},
{"c":0,"i":500,"y":0.40},{"c":0,"i":510,"y":0.62},{"c":0,"i":520,"y":0.36},{"c":0,"i":530,"y":0.24},{"c":0,"i":540,"y":0.45},{"c":0,"i":550,"y":0.58},{"c":0,"i":560,"y":0.77},{"c":0,"i":570,"y":0.50},{"c":0,"i":580,"y":0.64},{"c":0,"i":590,"y":0.55},
{"c":0,"i":600,"y":0.70},{"c":0,"i":610,"y":0.47},{"c":0,"i":620,"y":0.60},{"c":0,"i":630,"y":0.52},{"c":0,"i":640,"y":0.43},{"c":0,"i":650,"y":0.58},{"c":0,"i":660,"y":0.64},{"c":0,"i":670,"y":0.49},{"c":0,"i":680,"y":0.71},{"c":0,"i":690,"y":0.55},
{"c":0,"i":700,"y":0.46},{"c":0,"i":710,"y":0.63},{"c":0,"i":720,"y":0.52},{"c":0,"i":730,"y":0.38},{"c":0,"i":740,"y":0.68},{"c":0,"i":750,"y":0.56},{"c":0,"i":760,"y":0.45},{"c":0,"i":770,"y":0.60},{"c":0,"i":780,"y":0.50},{"c":0,"i":790,"y":0.72},
{"c":0,"i":800,"y":0.40},{"c":0,"i":810,"y":0.55},{"c":0,"i":820,"y":0.35},{"c":0,"i":830,"y":0.48},{"c":0,"i":840,"y":0.30},{"c":0,"i":850,"y":0.62},{"c":0,"i":860,"y":0.50},{"c":0,"i":870,"y":0.79},{"c":0,"i":880,"y":0.58},{"c":0,"i":890,"y":0.66},
{"c":0,"i":900,"y":0.48},{"c":0,"i":910,"y":0.60},{"c":0,"i":920,"y":0.72},{"c":0,"i":930,"y":0.52},{"c":0,"i":940,"y":0.44},{"c":0,"i":950,"y":0.68},{"c":0,"i":960,"y":0.57},{"c":0,"i":970,"y":0.47},{"c":0,"i":980,"y":0.63},{"c":0,"i":990,"y":0.55},
{"c":0,"i":1000,"y":0.70},{"c":0,"i":1010,"y":0.50},{"c":0,"i":1020,"y":0.62},{"c":0,"i":1030,"y":0.45},{"c":0,"i":1040,"y":0.80},{"c":0,"i":1050,"y":0.58},{"c":0,"i":1060,"y":0.67},{"c":0,"i":1070,"y":0.52},{"c":0,"i":1080,"y":0.46},{"c":0,"i":1090,"y":0.60},
{"c":0,"i":1100,"y":0.74},{"c":0,"i":1110,"y":0.55},{"c":0,"i":1120,"y":0.66},{"c":0,"i":1130,"y":0.49},{"c":0,"i":1140,"y":0.60},{"c":0,"i":1150,"y":0.42},{"c":0,"i":1160,"y":0.57},{"c":0,"i":1170,"y":0.52},{"c":0,"i":1180,"y":0.46},{"c":0,"i":1190,"y":0.58},
{"c":0,"i":1200,"y":0.50},{"c":0,"i":1210,"y":0.62},{"c":0,"i":1220,"y":0.44},{"c":0,"i":1230,"y":0.55},{"c":0,"i":1240,"y":0.73},{"c":0,"i":1250,"y":0.48},{"c":0,"i":1260,"y":0.60},{"c":0,"i":1270,"y":0.45},{"c":0,"i":1280,"y":0.67},{"c":0,"i":1290,"y":0.53},
{"c":0,"i":1300,"y":0.42},{"c":0,"i":1310,"y":0.58},{"c":0,"i":1320,"y":0.38},{"c":0,"i":1330,"y":0.50},{"c":0,"i":1340,"y":0.46},{"c":0,"i":1350,"y":0.62},{"c":0,"i":1360,"y":0.40},{"c":0,"i":1370,"y":0.55},{"c":0,"i":1380,"y":0.48},{"c":0,"i":1390,"y":0.60},
{"c":0,"i":1400,"y":0.65},{"c":0,"i":1410,"y":0.52},{"c":0,"i":1420,"y":0.70},{"c":0,"i":1430,"y":0.58},{"c":0,"i":1440,"y":0.47},{"c":0,"i":1450,"y":0.63},{"c":0,"i":1460,"y":0.55},{"c":0,"i":1470,"y":0.72},{"c":0,"i":1480,"y":0.60},{"c":0,"i":1490,"y":0.50},
{"c":0,"i":1500,"y":0.57},{"c":0,"i":1510,"y":0.38},{"c":0,"i":1520,"y":0.66},{"c":0,"i":1530,"y":0.52},{"c":0,"i":1540,"y":0.45},{"c":0,"i":1550,"y":0.60},{"c":0,"i":1560,"y":0.55},{"c":0,"i":1570,"y":0.68},{"c":0,"i":1580,"y":0.48},{"c":0,"i":1590,"y":0.62},
{"c":0,"i":1600,"y":0.50},{"c":0,"i":1610,"y":0.42},{"c":0,"i":1620,"y":0.58},{"c":0,"i":1630,"y":0.47},{"c":0,"i":1640,"y":0.65},{"c":0,"i":1650,"y":0.55},{"c":0,"i":1660,"y":0.62},{"c":0,"i":1670,"y":0.49},{"c":0,"i":1680,"y":0.70},{"c":0,"i":1690,"y":0.56},
{"c":0,"i":1700,"y":0.60},{"c":0,"i":1710,"y":0.48},{"c":0,"i":1720,"y":0.66},{"c":0,"i":1730,"y":0.53},{"c":0,"i":1740,"y":0.45},{"c":0,"i":1750,"y":0.70},{"c":0,"i":1760,"y":0.58},{"c":0,"i":1770,"y":0.50},{"c":0,"i":1780,"y":0.64},{"c":0,"i":1790,"y":0.55},
{"c":0,"i":1800,"y":0.47},{"c":0,"i":1810,"y":0.60},{"c":0,"i":1820,"y":0.33},{"c":0,"i":1830,"y":0.52},{"c":0,"i":1840,"y":0.68},{"c":0,"i":1850,"y":0.56},{"c":0,"i":1860,"y":0.44},{"c":0,"i":1870,"y":0.62},{"c":0,"i":1880,"y":0.50},{"c":0,"i":1890,"y":0.65},
{"c":0,"i":1900,"y":0.58},{"c":0,"i":1910,"y":0.46},{"c":0,"i":1920,"y":0.64},{"c":0,"i":1930,"y":0.52},{"c":0,"i":1940,"y":0.40},{"c":0,"i":1950,"y":0.60},{"c":0,"i":1960,"y":0.55},{"c":0,"i":1970,"y":0.48},{"c":0,"i":1980,"y":0.62},{"c":0,"i":1990,"y":0.38},
{"c":1,"i":0,"y":0.48},{"c":1,"i":10,"y":0.60},{"c":1,"i":20,"y":0.40},{"c":1,"i":30,"y":0.58},{"c":1,"i":40,"y":0.82},{"c":1,"i":50,"y":0.50},{"c":1,"i":60,"y":0.66},{"c":1,"i":70,"y":0.45},{"c":1,"i":80,"y":0.55},{"c":1,"i":90,"y":0.72},
{"c":1,"i":100,"y":0.52},{"c":1,"i":110,"y":0.62},{"c":1,"i":120,"y":0.47},{"c":1,"i":130,"y":0.76},{"c":1,"i":140,"y":0.57},{"c":1,"i":150,"y":0.50},{"c":1,"i":160,"y":0.63},{"c":1,"i":170,"y":0.44},{"c":1,"i":180,"y":0.35},{"c":1,"i":190,"y":0.22},
{"c":1,"i":200,"y":0.45},{"c":1,"i":210,"y":0.58},{"c":1,"i":220,"y":0.66},{"c":1,"i":230,"y":0.60},{"c":1,"i":240,"y":0.76},{"c":1,"i":250,"y":0.55},{"c":1,"i":260,"y":0.65},{"c":1,"i":270,"y":0.48},{"c":1,"i":280,"y":0.58},{"c":1,"i":290,"y":0.52},
{"c":1,"i":300,"y":0.40},{"c":1,"i":310,"y":0.22},{"c":1,"i":320,"y":0.35},{"c":1,"i":330,"y":0.47},{"c":1,"i":340,"y":0.42},{"c":1,"i":350,"y":0.55},{"c":1,"i":360,"y":0.50},{"c":1,"i":370,"y":0.45},{"c":1,"i":380,"y":0.60},{"c":1,"i":390,"y":0.52},
{"c":1,"i":400,"y":0.47},{"c":1,"i":410,"y":0.58},{"c":1,"i":420,"y":0.65},{"c":1,"i":430,"y":0.50},{"c":1,"i":440,"y":0.44},{"c":1,"i":450,"y":0.55},{"c":1,"i":460,"y":0.68},{"c":1,"i":470,"y":0.81},{"c":1,"i":480,"y":0.62},{"c":1,"i":490,"y":0.50},
{"c":1,"i":500,"y":0.55},{"c":1,"i":510,"y":0.60},{"c":1,"i":520,"y":0.48},{"c":1,"i":530,"y":0.52},{"c":1,"i":540,"y":0.62},{"c":1,"i":550,"y":0.68},{"c":1,"i":560,"y":0.58},{"c":1,"i":570,"y":0.72},{"c":1,"i":580,"y":0.65},{"c":1,"i":590,"y":0.82},
{"c":1,"i":600,"y":0.55},{"c":1,"i":610,"y":0.45},{"c":1,"i":620,"y":0.28},{"c":1,"i":630,"y":0.50},{"c":1,"i":640,"y":0.62},{"c":1,"i":650,"y":0.66},{"c":1,"i":660,"y":0.78},{"c":1,"i":670,"y":0.48},{"c":1,"i":680,"y":0.58},{"c":1,"i":690,"y":0.75},
{"c":1,"i":700,"y":0.62},{"c":1,"i":710,"y":0.55},{"c":1,"i":720,"y":0.48},{"c":1,"i":730,"y":0.58},{"c":1,"i":740,"y":0.70},{"c":1,"i":750,"y":0.64},{"c":1,"i":760,"y":0.52},{"c":1,"i":770,"y":0.68},{"c":1,"i":780,"y":0.60},{"c":1,"i":790,"y":0.83},
{"c":1,"i":800,"y":0.65},{"c":1,"i":810,"y":0.55},{"c":1,"i":820,"y":0.72},{"c":1,"i":830,"y":0.50},{"c":1,"i":840,"y":0.58},{"c":1,"i":850,"y":0.35},{"c":1,"i":860,"y":0.45},{"c":1,"i":870,"y":0.28},{"c":1,"i":880,"y":0.18},{"c":1,"i":890,"y":0.12},
{"c":1,"i":900,"y":0.08},{"c":1,"i":910,"y":0.10},{"c":1,"i":920,"y":0.06},{"c":1,"i":930,"y":0.09},{"c":1,"i":940,"y":0.05},{"c":1,"i":950,"y":0.07},{"c":1,"i":960,"y":0.04},{"c":1,"i":970,"y":0.06},{"c":1,"i":980,"y":0.05},{"c":1,"i":990,"y":0.04},
{"c":1,"i":1000,"y":0.06},{"c":1,"i":1010,"y":0.04},{"c":1,"i":1020,"y":0.05},{"c":1,"i":1030,"y":0.03},{"c":1,"i":1040,"y":0.05},{"c":1,"i":1050,"y":0.04},{"c":1,"i":1060,"y":0.07},{"c":1,"i":1070,"y":0.05},{"c":1,"i":1080,"y":0.08},{"c":1,"i":1090,"y":0.06},
{"c":1,"i":1100,"y":0.09},{"c":1,"i":1110,"y":0.07},{"c":1,"i":1120,"y":0.10},{"c":1,"i":1130,"y":0.08},{"c":1,"i":1140,"y":0.12},{"c":1,"i":1150,"y":0.06},{"c":1,"i":1160,"y":0.09},{"c":1,"i":1170,"y":0.08},{"c":1,"i":1180,"y":0.13},{"c":1,"i":1190,"y":0.15},
{"c":1,"i":1200,"y":0.20},{"c":1,"i":1210,"y":0.35},{"c":1,"i":1220,"y":0.50},{"c":1,"i":1230,"y":0.60},{"c":1,"i":1240,"y":0.45},{"c":1,"i":1250,"y":0.58},{"c":1,"i":1260,"y":0.66},{"c":1,"i":1270,"y":0.52},{"c":1,"i":1280,"y":0.70},{"c":1,"i":1290,"y":0.48},
{"c":1,"i":1300,"y":0.55},{"c":1,"i":1310,"y":0.62},{"c":1,"i":1320,"y":0.40},{"c":1,"i":1330,"y":0.30},{"c":1,"i":1340,"y":0.48},{"c":1,"i":1350,"y":0.44},{"c":1,"i":1360,"y":0.52},{"c":1,"i":1370,"y":0.58},{"c":1,"i":1380,"y":0.50},{"c":1,"i":1390,"y":0.62},
{"c":1,"i":1400,"y":0.55},{"c":1,"i":1410,"y":0.48},{"c":1,"i":1420,"y":0.66},{"c":1,"i":1430,"y":0.58},{"c":1,"i":1440,"y":0.70},{"c":1,"i":1450,"y":0.52},{"c":1,"i":1460,"y":0.40},{"c":1,"i":1470,"y":0.60},{"c":1,"i":1480,"y":0.68},{"c":1,"i":1490,"y":0.72},
{"c":1,"i":1500,"y":0.50},{"c":1,"i":1510,"y":0.38},{"c":1,"i":1520,"y":0.62},{"c":1,"i":1530,"y":0.55},{"c":1,"i":1540,"y":0.75},{"c":1,"i":1550,"y":0.66},{"c":1,"i":1560,"y":0.48},{"c":1,"i":1570,"y":0.58},{"c":1,"i":1580,"y":0.45},{"c":1,"i":1590,"y":0.60},
{"c":1,"i":1600,"y":0.55},{"c":1,"i":1610,"y":0.66},{"c":1,"i":1620,"y":0.48},{"c":1,"i":1630,"y":0.70},{"c":1,"i":1640,"y":0.52},{"c":1,"i":1650,"y":0.62},{"c":1,"i":1660,"y":0.44},{"c":1,"i":1670,"y":0.58},{"c":1,"i":1680,"y":0.68},{"c":1,"i":1690,"y":0.55},
{"c":1,"i":1700,"y":0.60},{"c":1,"i":1710,"y":0.48},{"c":1,"i":1720,"y":0.88},{"c":1,"i":1730,"y":0.55},{"c":1,"i":1740,"y":0.65},{"c":1,"i":1750,"y":0.50},{"c":1,"i":1760,"y":0.72},{"c":1,"i":1770,"y":0.58},{"c":1,"i":1780,"y":0.42},{"c":1,"i":1790,"y":0.62},
{"c":1,"i":1800,"y":0.68},{"c":1,"i":1810,"y":0.55},{"c":1,"i":1820,"y":0.60},{"c":1,"i":1830,"y":0.40},{"c":1,"i":1840,"y":0.75},{"c":1,"i":1850,"y":0.58},{"c":1,"i":1860,"y":0.50},{"c":1,"i":1870,"y":0.66},{"c":1,"i":1880,"y":0.55},{"c":1,"i":1890,"y":0.62},
{"c":1,"i":1900,"y":0.70},{"c":1,"i":1910,"y":0.48},{"c":1,"i":1920,"y":0.60},{"c":1,"i":1930,"y":0.52},{"c":1,"i":1940,"y":0.66},{"c":1,"i":1950,"y":0.45},{"c":1,"i":1960,"y":0.58},{"c":1,"i":1970,"y":0.62},{"c":1,"i":1980,"y":0.44},{"c":1,"i":1990,"y":0.35}
]
},
"bounds": "flush",
"columns": 2,
"spacing": {"row": 54, "column": 63},
"concat": [
  {"width": 553, "height": 131, "title": "rho", "data": {"name": "kde_rho"},
   "encoding": {
     "x": {"field": "x", "type": "quantitative", "scale": {"domain": [-0.2015, 0.6015], "nice": false, "zero": false}, "axis": {"values": [-0.1, 0, 0.1, 0.2, 0.3, 0.4, 0.5, 0.6], "format": ".1f"}},
     "y": {"field": "d", "type": "quantitative", "scale": {"domain": [-5.95, 124.95], "nice": false, "zero": false}, "axis": {"labels": false, "ticks": false, "values": []}}},
   "layer": [
     {"transform": [{"filter": "datum.c == 0"}], "mark": {"type": "line", "color": "#2a2eec", "strokeWidth": 1.4, "interpolate": "monotone"}},
     {"transform": [{"filter": "datum.c == 1"}], "mark": {"type": "line", "color": "#2a2eec", "strokeWidth": 1.4, "strokeDash": [1.5, 2.5], "interpolate": "monotone"}}
   ]},
  {"width": 554, "height": 131, "title": "rho", "data": {"name": "tr_rho"},
   "encoding": {
     "x": {"field": "i", "type": "quantitative", "scale": {"domain": [0, 2002], "nice": false, "zero": false}, "axis": {"values": [0, 250, 500, 750, 1000, 1250, 1500, 1750], "format": "d"}},
     "y": {"field": "y", "type": "quantitative", "scale": {"domain": [-0.191, 0.617], "nice": false, "zero": false}, "axis": {"values": [0, 0.25, 0.5], "format": ".2f"}}},
   "layer": [
     {"transform": [{"filter": "datum.c == 0"}], "mark": {"type": "line", "color": "#2a2eec", "strokeWidth": 1.5, "opacity": 0.38}},
     {"transform": [{"filter": "datum.c == 1"}], "mark": {"type": "line", "color": "#2a2eec", "strokeWidth": 1.5, "opacity": 0.38, "strokeDash": [1.5, 2.5]}}
   ]},
  {"width": 553, "height": 131, "title": "sigma", "data": {"name": "kde_sigma"},
   "encoding": {
     "x": {"field": "x", "type": "quantitative", "scale": {"domain": [0.8653, 1.388], "nice": false, "zero": false}, "axis": {"values": [0.9, 1.0, 1.1, 1.2, 1.3], "format": ".1f"}},
     "y": {"field": "d", "type": "quantitative", "scale": {"domain": [-5.95, 124.95], "nice": false, "zero": false}, "axis": {"labels": false, "ticks": false, "values": []}}},
   "layer": [
     {"transform": [{"filter": "datum.c == 0"}], "mark": {"type": "line", "color": "#2a2eec", "strokeWidth": 1.4, "interpolate": "monotone"}},
     {"transform": [{"filter": "datum.c == 1"}], "mark": {"type": "line", "color": "#2a2eec", "strokeWidth": 1.4, "strokeDash": [1.5, 2.5], "interpolate": "monotone"}}
   ]},
  {"width": 554, "height": 131, "title": "sigma", "data": {"name": "tr_sigma"},
   "encoding": {
     "x": {"field": "i", "type": "quantitative", "scale": {"domain": [0, 2002], "nice": false, "zero": false}, "axis": {"values": [0, 250, 500, 750, 1000, 1250, 1500, 1750], "format": "d"}},
     "y": {"field": "y", "type": "quantitative", "scale": {"domain": [0.872, 1.407], "nice": false, "zero": false}, "axis": {"values": [1.0, 1.2], "format": ".1f"}}},
   "layer": [
     {"transform": [{"filter": "datum.c == 0"}], "mark": {"type": "line", "color": "#2a2eec", "strokeWidth": 1.5, "opacity": 0.38}},
     {"transform": [{"filter": "datum.c == 1"}], "mark": {"type": "line", "color": "#2a2eec", "strokeWidth": 1.5, "opacity": 0.38, "strokeDash": [1.5, 2.5]}}
   ]},
  {"width": 553, "height": 131, "title": "sigma_alpha", "data": {"name": "kde_sa"},
   "encoding": {
     "x": {"field": "x", "type": "quantitative", "scale": {"domain": [-0.0257, 0.928], "nice": false, "zero": false}, "axis": {"values": [0, 0.2, 0.4, 0.6, 0.8], "format": ".1f"}},
     "y": {"field": "d", "type": "quantitative", "scale": {"domain": [-5.95, 124.95], "nice": false, "zero": false}, "axis": {"labels": false, "ticks": false, "values": []}}},
   "layer": [
     {"transform": [{"filter": "datum.c == 0"}], "mark": {"type": "line", "color": "#2a2eec", "strokeWidth": 1.4, "interpolate": "monotone"}},
     {"transform": [{"filter": "datum.c == 1"}], "mark": {"type": "line", "color": "#2a2eec", "strokeWidth": 1.4, "strokeDash": [1.5, 2.5], "interpolate": "monotone"}}
   ]},
  {"width": 554, "height": 131, "title": "sigma_alpha", "data": {"name": "tr_sa"},
   "encoding": {
     "x": {"field": "i", "type": "quantitative", "scale": {"domain": [0, 2002], "nice": false, "zero": false}, "axis": {"values": [0, 250, 500, 750, 1000, 1250, 1500, 1750], "format": "d"}},
     "y": {"field": "y", "type": "quantitative", "scale": {"domain": [-0.022, 0.953], "nice": false, "zero": false}, "axis": {"values": [0, 0.25, 0.5, 0.75], "format": ".2f"}}},
   "layer": [
     {"transform": [{"filter": "datum.c == 0"}], "mark": {"type": "line", "color": "#2a2eec", "strokeWidth": 1.5, "opacity": 0.38}},
     {"transform": [{"filter": "datum.c == 1"}], "mark": {"type": "line", "color": "#2a2eec", "strokeWidth": 1.5, "opacity": 0.38, "strokeDash": [1.5, 2.5]}}
   ]}
]
}
